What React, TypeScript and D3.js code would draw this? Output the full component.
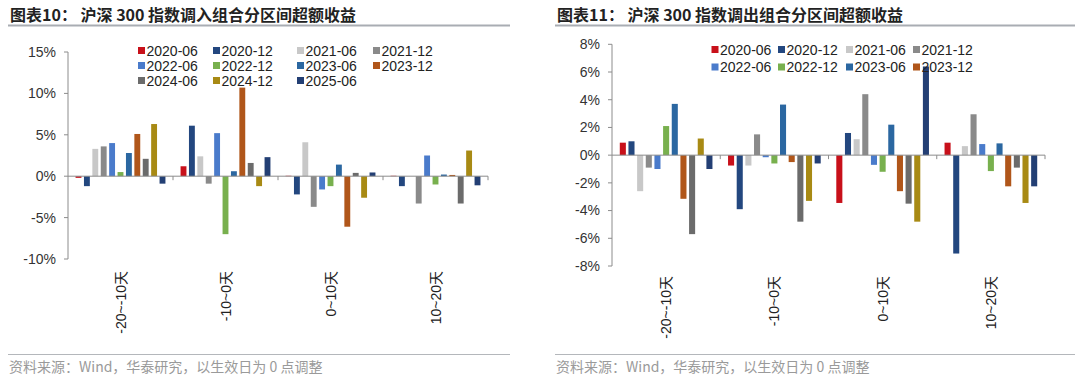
import React from "react";
import * as d3 from "d3";

const categories = ["-20~-10天", "-10~0天", "0~10天", "10~20天"];
const seriesNames = ["2020-06", "2020-12", "2021-06", "2021-12", "2022-06", "2022-12", "2023-06", "2023-12", "2024-06", "2024-12", "2025-06"];
const seriesColors = ["#c8101a", "#23477f", "#c8c8c8", "#8a8a8a", "#4a7bcb", "#78b04e", "#2b67a1", "#b0561a", "#6b6b6b", "#a88a14", "#233f74"];

// 图表10 values (%), rows = series, cols = categories
const inValues: number[][] = [
  [-0.2, 1.2, 0.05, 0.05],
  [-1.2, 6.1, -2.2, -1.2],
  [3.3, 2.4, 4.1, 0.0],
  [3.6, -0.9, -3.7, -3.3],
  [4.0, 5.2, -1.6, 2.5],
  [0.5, -7.0, -1.2, -1.0],
  [2.8, 0.6, 1.4, 0.2],
  [5.1, 10.7, -6.1, 0.15],
  [2.1, 1.6, 0.4, -3.3],
  [6.3, -1.2, -2.6, 3.1],
  [-0.9, 2.3, 0.45, -1.1],
];

// 图表11 values (%)
const outValues: number[][] = [
  [0.9, -0.75, -3.45, 0.9],
  [1.0, -3.9, 1.6, -7.1],
  [-2.6, -0.75, 1.15, 0.65],
  [-0.9, 1.5, 4.4, 2.95],
  [-1.0, -0.15, -0.7, 0.8],
  [2.1, -0.6, -1.2, -1.15],
  [3.7, 3.65, 2.2, 0.85],
  [-3.15, -0.5, -2.6, -2.25],
  [-5.7, -4.8, -3.5, -0.9],
  [1.2, -3.3, -4.8, -3.45],
  [-1.0, -0.6, 6.4, -2.25],
];

const inTicks = [-10, -5, 0, 5, 10, 15];
const outTicks = [-8, -6, -4, -2, 0, 2, 4, 6, 8];

const LATIN = "'Liberation Sans', Arial, 'Noto Sans CJK SC', sans-serif";
const CJK = "'Noto Sans CJK SC', 'Liberation Sans', sans-serif";

type ChartProps = {
  ox: number;
  title: string;
  values: number[][];
  ticks: number[];
  yTop: number;
  yBottom: number;
  xLeft: number;
  xRight: number;
  legendCount: number;
  legendX: number[];
  legendY: number[];
  labelTop: number;
  lineRight: number;
  titleX: number;
};

function Chart(p: ChartProps) {
  const y = d3
    .scaleLinear()
    .domain([p.ticks[0], p.ticks[p.ticks.length - 1]])
    .range([p.yBottom, p.yTop]);
  const x0 = d3.scaleBand<string>().domain(categories).range([p.xLeft, p.xRight]).padding(0);
  const x1 = d3
    .scaleBand<string>()
    .domain(seriesNames)
    .range([0, x0.bandwidth()])
    .paddingInner(0.3)
    .paddingOuter(0.9);
  const y0 = y(0);
  const legendItems = seriesNames.slice(0, p.legendCount);
  return (
    <g transform={`translate(${p.ox},0)`}>
      <text x={p.titleX} y={21} fontFamily={CJK} fontWeight="bold" fontSize={16} fill="#222">
        {p.title}
      </text>
      <line x1={p.titleX - 2} x2={p.lineRight} y1={25.5} y2={25.5} stroke="#a9adb3" strokeWidth={2} />
      {/* y axis */}
      <line x1={p.xLeft} x2={p.xLeft} y1={p.yTop} y2={p.yBottom} stroke="#8c8c8c" strokeWidth={1} />
      {p.ticks.map((t) => (
        <g key={t}>
          <line x1={p.xLeft - 4} x2={p.xLeft} y1={y(t)} y2={y(t)} stroke="#8c8c8c" />
          <text
            x={p.xLeft - 12}
            y={y(t)}
            dy="0.35em"
            textAnchor="end"
            fontFamily={LATIN}
            fontSize={14}
            fill="#333"
          >
            {t + "%"}
          </text>
        </g>
      ))}
      {/* bars */}
      {seriesNames.map((s, si) =>
        categories.map((c, ci) => {
          const v = p.values[si][ci];
          const yv = y(v);
          return (
            <rect
              key={s + c}
              x={(x0(c) as number) + (x1(s) as number)}
              y={Math.min(yv, y0)}
              width={x1.bandwidth()}
              height={Math.abs(yv - y0)}
              fill={seriesColors[si]}
            />
          );
        })
      )}
      {/* x axis */}
      <line x1={p.xLeft} x2={p.xRight} y1={y0} y2={y0} stroke="#8c8c8c" strokeWidth={1} />
      {categories.map((c) => {
        const bx = (x0(c) as number) + x0.bandwidth();
        return <line key={"t" + c} x1={bx} x2={bx} y1={y0} y2={y0 + 4} stroke="#8c8c8c" />;
      })}
      {categories.map((c) => {
        const cx = (x0(c) as number) + x0.bandwidth() / 2;
        return (
          <text
            key={"l" + c}
            transform={`translate(${cx + 5},${p.labelTop}) rotate(-90)`}
            textAnchor="end"
            fontFamily={LATIN}
            fontSize={14}
            fill="#222"
          >
            {c}
          </text>
        );
      })}
      {/* legend */}
      {legendItems.map((s, i) => {
        const col = i % 4;
        const row = Math.floor(i / 4);
        const lx = p.legendX[col];
        const ly = p.legendY[row];
        return (
          <g key={"lg" + s}>
            <rect x={lx} y={ly - 4} width={7} height={7} fill={seriesColors[i]} />
            <text x={lx + 8.5} y={ly} dy="0.35em" fontFamily={LATIN} fontSize={14} fill="#222">
              {s}
            </text>
          </g>
        );
      })}
      {/* footer */}
      <line x1={p.titleX - 2} x2={p.lineRight} y1={354.5} y2={354.5} stroke="#b4b7bb" strokeWidth={1.2} />
      <text x={p.titleX - 1} y={372} fontFamily={CJK} fontSize={14} fill="#9a9a9a">
        资料来源：Wind，华泰研究，以生效日为 0 点调整
      </text>
    </g>
  );
}

export default function App() {
  return (
    <svg
      width={1080}
      height={379}
      style={{ position: "absolute", left: 0, top: 0, background: "#fff" }}
    >
      <rect width={1080} height={379} fill="#fff" />
      <Chart
        ox={0}
        title="图表10：  沪深 300 指数调入组合分区间超额收益"
        values={inValues}
        ticks={inTicks}
        yTop={52}
        yBottom={259}
        xLeft={68}
        xRight={488}
        legendCount={11}
        legendX={[138, 213, 297, 373]}
        legendY={[51, 66, 81]}
        labelTop={271}
        lineRight={510}
        titleX={10}
      />
      <Chart
        ox={540}
        title="图表11：  沪深 300 指数调出组合分区间超额收益"
        values={outValues}
        ticks={outTicks}
        yTop={44.3}
        yBottom={266}
        xLeft={72}
        xRight={505}
        legendCount={8}
        legendX={[171.5, 238, 306, 373]}
        legendY={[50, 67.5]}
        labelTop={276}
        lineRight={535}
        titleX={17}
      />
    </svg>
  );
}
